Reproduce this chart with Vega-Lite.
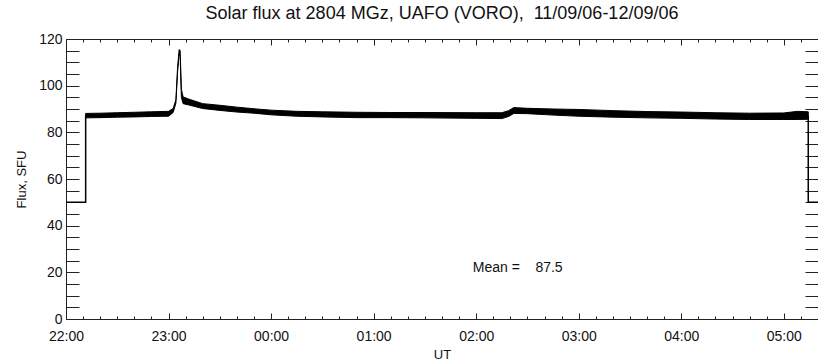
{
  "$schema": "https://vega.github.io/schema/vega-lite/v6.json",
  "width": 752,
  "height": 280,
  "autosize": {"type": "none"},
  "padding": {"left": 66, "top": 39, "right": 0, "bottom": 44},
  "background": "white",
  "config": {
    "view": {"stroke": null},
    "font": "Liberation Sans",
    "axis": {"grid": false, "ticks": true, "domainColor": "#222", "tickColor": "#222", "tickWidth": 1, "labelColor": "#111", "titleColor": "#111", "labelFont": "Liberation Sans", "titleFont": "Liberation Sans", "titleFontWeight": "normal", "labelFontSize": 14, "titleFontSize": 13}
  },
  "title": {"text": "Solar flux at 2804 MGz, UAFO (VORO),\u00a0\u00a011/09/06-12/09/06", "fontSize": 18, "fontWeight": "normal", "font": "Liberation Sans", "color": "#111", "anchor": "middle", "offset": 9},
  "datasets": {
    "band": [
      {"t": 11.5, "lo": 86.2, "hi": 88.1},
      {"t": 20, "lo": 86.3, "hi": 88.2},
      {"t": 30, "lo": 86.5, "hi": 88.4},
      {"t": 40, "lo": 86.6, "hi": 88.6},
      {"t": 50, "lo": 86.8, "hi": 88.8},
      {"t": 60, "lo": 86.9, "hi": 89.0},
      {"t": 62.7, "lo": 88.5, "hi": 90.2},
      {"t": 64.3, "lo": 92.5, "hi": 94.0},
      {"t": 65.3, "lo": 106.0, "hi": 108.0},
      {"t": 66.2, "lo": 113.5, "hi": 115.5},
      {"t": 66.8, "lo": 112.5, "hi": 115.0},
      {"t": 67.5, "lo": 95.0, "hi": 98.5},
      {"t": 68.5, "lo": 92.3, "hi": 95.2},
      {"t": 72, "lo": 91.7, "hi": 94.2},
      {"t": 80, "lo": 90.2, "hi": 92.3},
      {"t": 90, "lo": 89.4, "hi": 91.6},
      {"t": 100, "lo": 88.7, "hi": 90.8},
      {"t": 110, "lo": 88.2, "hi": 90.1},
      {"t": 120, "lo": 87.5, "hi": 89.5},
      {"t": 135, "lo": 86.9, "hi": 89.0},
      {"t": 150, "lo": 86.6, "hi": 88.8},
      {"t": 170, "lo": 86.3, "hi": 88.6},
      {"t": 190, "lo": 86.3, "hi": 88.5},
      {"t": 210, "lo": 86.2, "hi": 88.5},
      {"t": 240, "lo": 86.0, "hi": 88.4},
      {"t": 255, "lo": 85.9, "hi": 88.4},
      {"t": 259, "lo": 86.8, "hi": 89.3},
      {"t": 262, "lo": 88.1, "hi": 90.6},
      {"t": 270, "lo": 88.0, "hi": 90.3},
      {"t": 285, "lo": 87.4, "hi": 90.0},
      {"t": 300, "lo": 86.9, "hi": 89.8},
      {"t": 320, "lo": 86.5, "hi": 89.3},
      {"t": 340, "lo": 86.2, "hi": 88.9},
      {"t": 360, "lo": 86.0, "hi": 88.7},
      {"t": 380, "lo": 85.7, "hi": 88.4},
      {"t": 400, "lo": 85.5, "hi": 88.2},
      {"t": 420, "lo": 85.5, "hi": 88.3},
      {"t": 428, "lo": 85.5, "hi": 89.0},
      {"t": 434.3, "lo": 85.6, "hi": 88.8}
    ],
    "steps": [
      {"t": 0, "v": 50, "seg": "a", "o": 1},
      {"t": 11.5, "v": 50, "seg": "a", "o": 2},
      {"t": 11.5, "v": 87.2, "seg": "a", "o": 3},
      {"t": 434.3, "v": 87.2, "seg": "b", "o": 4},
      {"t": 434.3, "v": 50, "seg": "b", "o": 5},
      {"t": 440, "v": 50, "seg": "b", "o": 6}
    ],
    "note": [
      {"t": 238, "v": 22, "label": "Mean =\u00a0\u00a0\u00a0\u00a087.5"}
    ]
  },
  "layer": [
    {
      "data": {"name": "band"},
      "mark": {"type": "area", "color": "black", "stroke": "black", "strokeWidth": 1},
      "encoding": {
        "x": {"field": "t", "type": "quantitative", "scale": {"domain": [0, 440], "nice": false, "zero": false},
          "axis": {"orient": "bottom", "title": "UT", "titlePadding": 2,
            "values": [0,10,20,30,40,50,60,70,80,90,100,110,120,130,140,150,160,170,180,190,200,210,220,230,240,250,260,270,280,290,300,310,320,330,340,350,360,370,380,390,400,410,420,430,440],
            "labelExpr": "datum.value % 60 == 0 ? (((22 + datum.value/60) % 24) < 10 ? '0' : '') + ((22 + datum.value/60) % 24) + ':00' : ''",
            "labelFlush": false, "labelOverlap": false,
            "ticks": true,
            "tickSize": {"condition": {"test": "datum.value % 60 == 0", "value": -6}, "value": -3},
            "labelPadding": 16,
            "encode": {"ticks": {"update": {"y2": {"signal": "datum.value % 60 == 0 ? -6 : -3"}}}}}},
        "y": {"field": "lo", "type": "quantitative", "scale": {"domain": [0, 120], "nice": false},
          "axis": {"orient": "left", "title": "Flux, SFU", "titlePadding": 10,
            "values": [0,5,10,15,20,25,30,35,40,45,50,55,60,65,70,75,80,85,90,95,100,105,110,115,120],
            "labelExpr": "datum.value % 20 == 0 ? datum.label : ''",
            "labelOverlap": false,
            "ticks": true,
            "tickSize": -13, "labelPadding": 17,
            "encode": {"ticks": {"update": {"x": {"value": 0}, "x2": {"signal": "datum.value % 20 == 0 ? 13 : 6"}}}}}},
        "y2": {"field": "hi"}
      }
    },
    {
      "data": {"name": "steps"},
      "mark": {"type": "line", "color": "black", "strokeWidth": 1.5},
      "encoding": {
        "x": {"field": "t", "type": "quantitative",
          "axis": {"orient": "top", "title": null, "labels": false, "ticks": true,
            "values": [0,10,20,30,40,50,60,70,80,90,100,110,120,130,140,150,160,170,180,190,200,210,220,230,240,250,260,270,280,290,300,310,320,330,340,350,360,370,380,390,400,410,420,430,440],
            "tickSize": {"condition": {"test": "datum.value % 60 == 0", "value": -6}, "value": -3}}},
        "y": {"field": "v", "type": "quantitative",
          "axis": {"orient": "right", "title": null, "labels": false, "ticks": true,
            "values": [0,5,10,15,20,25,30,35,40,45,50,55,60,65,70,75,80,85,90,95,100,105,110,115,120],
            "tickSize": -13,
            "encode": {"ticks": {"update": {"x": {"value": 0}, "x2": {"signal": "datum.value % 20 == 0 ? -13 : -6"}}}}}},
        "detail": {"field": "seg"},
        "order": {"field": "o", "type": "quantitative"}
      }
    },
    {
      "data": {"name": "note"},
      "mark": {"type": "text", "align": "left", "baseline": "middle", "fontSize": 14, "font": "Liberation Sans", "color": "#111"},
      "encoding": {
        "x": {"field": "t", "type": "quantitative", "axis": null},
        "y": {"field": "v", "type": "quantitative", "axis": null},
        "text": {"field": "label"}
      }
    }
  ],
  "resolve": {"axis": {"x": "independent", "y": "independent"}}
}
